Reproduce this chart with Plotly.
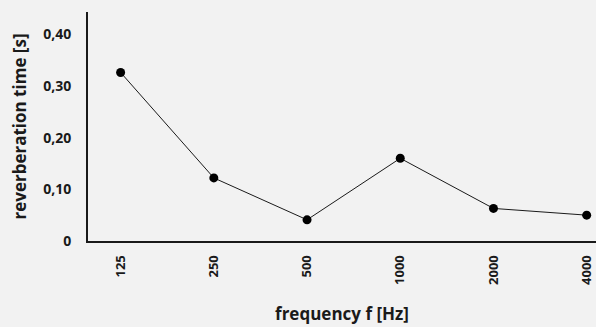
import plotly.graph_objects as go

# Data
frequencies = ["125", "250", "500", "1000", "2000", "4000"]
reverb_time = [0.326, 0.122, 0.041, 0.160, 0.063, 0.050]

y_tick_vals = [0, 0.1, 0.2, 0.3, 0.4]
y_tick_text = ["0", "0,10", "0,20", "0,30", "0,40"]

FONT = "Open Sans"
INK = "#1a1a1a"
BG = "#f2f2f2"

fig = go.Figure(
    go.Scatter(
        x=frequencies,
        y=reverb_time,
        mode="lines+markers",
        line=dict(color=INK, width=1),
        marker=dict(color="black", size=9),
        cliponaxis=False,
        hoverinfo="skip",
    )
)

fig.update_layout(
    width=596,
    height=327,
    margin=dict(l=88, r=0, t=12, b=86),
    paper_bgcolor=BG,
    plot_bgcolor=BG,
    showlegend=False,
    font=dict(family=FONT, color=INK),
)

fig.update_xaxes(
    type="category",
    range=[-0.35, 5.1],
    automargin=False,
    showgrid=False,
    showline=True,
    linecolor=INK,
    linewidth=2,
    ticks="",
    tickangle=-90,
    tickfont=dict(size=13, family=FONT, weight="bold"),
    ticklabelstandoff=7,
    title=dict(
        text="frequency f [Hz]",
        font=dict(size=17, family=FONT, weight="bold"),
        standoff=24,
    ),
)

fig.update_yaxes(
    range=[0, 0.443],
    automargin=False,
    showgrid=False,
    zeroline=False,
    showline=True,
    linecolor=INK,
    linewidth=2,
    ticks="",
    tickvals=y_tick_vals,
    ticktext=y_tick_text,
    tickfont=dict(size=14, family=FONT, weight="bold"),
    ticklabelstandoff=12,
    title=dict(
        text="reverberation time [s]",
        font=dict(size=17, family=FONT, weight="bold"),
        standoff=12,
    ),
)

# drop the default page margin so the figure sits at the window's corner
fig.write_html(
    "out.html",
    config={"displayModeBar": False},
    post_script=f"document.body.style.margin='0';document.body.style.background='{BG}';",
)
